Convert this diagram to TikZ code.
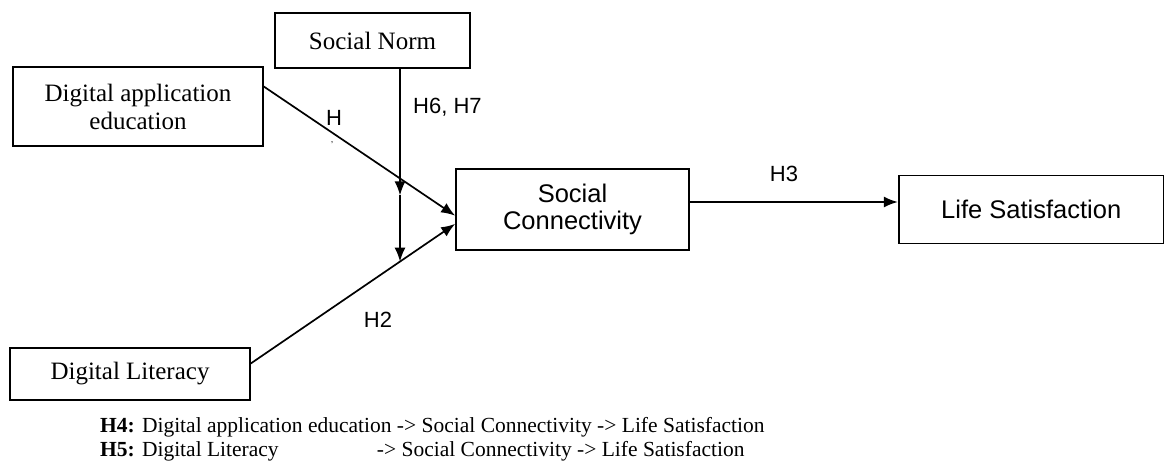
\documentclass[tikz,border=0pt]{standalone}
\usepackage{fontspec}
\setmainfont{Liberation Serif}
\newfontfamily\arialfont{Liberation Sans}
\usetikzlibrary{positioning,arrows.meta}
\newlength\hfourwidth

\begin{document}
\settowidth{\hfourwidth}{\fontsize{21.5}{24}\selectfont\textbf{H4:} Digital application education }
\addtolength{\hfourwidth}{-20pt}
\begin{tikzpicture}[
    x=1pt, y=-1pt,
    every node/.style={align=center, inner sep=0pt},
    box/.style={draw, line width=1.7pt},
    serif/.style={font=\fontsize{25}{28}\selectfont},
    sans/.style={font=\arialfont\fontsize{25.5}{27}\selectfont},
    hlabel/.style={font=\arialfont\fontsize{22}{26}\selectfont},
    arrow/.style={line width=1.7pt, -{Latex[length=14pt,width=11pt]}},
    note/.style={anchor=base west, font=\fontsize{21.5}{24}\selectfont}
  ]
  \useasboundingbox (0,0) rectangle (1164,471);

  \node[box, serif, minimum width=195pt, minimum height=55pt] (sn) at (372.5,40.5) {Social Norm};
  \node[box, serif, minimum width=250pt, minimum height=79pt] (dae) at (138,106.5) {Digital application\\education};
  \node[box, serif, minimum width=240pt, minimum height=52pt] (dl) at (130,374) {Digital Literacy};
  \node[box, sans, minimum width=233pt, minimum height=81pt] (sc) at (572.5,209.5) {Social\\Connectivity};
  \node[box, sans, minimum width=265pt, minimum height=68pt, right=208pt of sc] (ls) {Life Satisfaction};

  \draw[arrow] (dae.9) -- (sc.183);
  \draw[arrow] (dl.5) -- (sc.187);
  \draw[arrow] ([yshift=7.5pt]sc.east) -- ([yshift=7.5pt]sc.east -| ls.west);

  % moderation by social norm
  \coordinate (cross) at (intersection of dae.9--sc.183 and 400,0--400,400);
  \coordinate (modend) at (intersection of dl.5--sc.187 and 400,0--400,400);
  \coordinate (modmid) at ([yshift=-17pt]cross);
  \draw[arrow] (sn.south -| cross) -- (modmid);
  \draw[arrow] (modmid) -- (modend);

  % Labels
  \node[hlabel] (hone) at (334,118) {H};
  \node[font=\arialfont\fontsize{9}{9}\selectfont] (hmark) at (332,143) {,};
  \node[hlabel, anchor=west] (hsixseven) at (413,107) {H6, H7};
  \node[hlabel] (hthree) at (784,174) {H3};
  \node[hlabel] (htwo) at (378,320) {H2};

  \node[note] (hfour) at (100,432) {\textbf{H4:} Digital application education -> Social Connectivity -> Life Satisfaction};
  \node[note] (hfive) at (100,456) {\makebox[\hfourwidth][l]{\textbf{H5:} Digital Literacy}-> Social Connectivity -> Life Satisfaction};
\end{tikzpicture}
\end{document}
